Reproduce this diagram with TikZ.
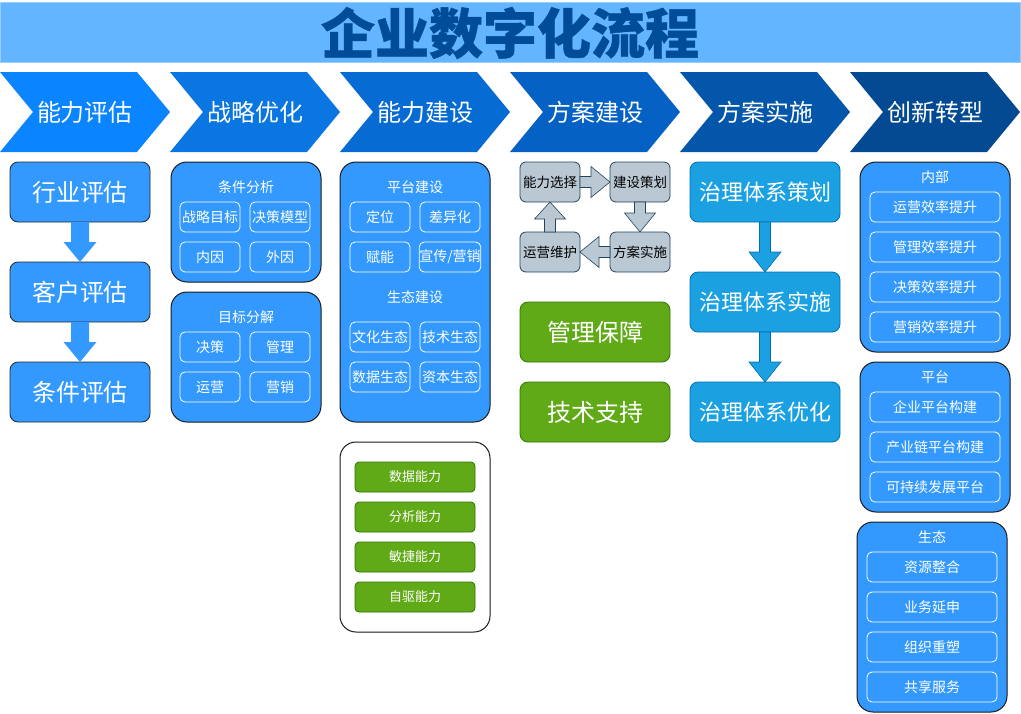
\documentclass[tikz,border=0pt]{standalone}
\usepackage{fontspec}
\setmainfont{Noto Sans CJK SC}
\newfontfamily\titlefont{Noto Sans CJK SC}[BoldFeatures={FakeBold=0.8}]
\usetikzlibrary{calc}
\definecolor{titlebar}{HTML}{63B5FF}
\definecolor{titleedge}{HTML}{9ACDFF}
\definecolor{titletext}{HTML}{004C99}
\definecolor{ch1}{HTML}{0A84FF}
\definecolor{ch2}{HTML}{0A76E2}
\definecolor{ch3}{HTML}{066BD2}
\definecolor{ch4}{HTML}{0562C4}
\definecolor{ch5}{HTML}{0456AA}
\definecolor{ch6}{HTML}{034A92}
\definecolor{mblue}{HTML}{3399FF}
\definecolor{cycfill}{HTML}{BAC8D3}
\definecolor{cycedge}{HTML}{23445D}
\definecolor{gfill}{HTML}{60A917}
\definecolor{gedge}{HTML}{2D7600}
\definecolor{govfill}{HTML}{1BA1E2}
\definecolor{govedge}{HTML}{006EAF}
\newcommand\fs[1]{\fontsize{#1}{#1}\selectfont}
\newcommand\barrow[6]{%
  \coordinate (ba-s) at (#2); \coordinate (ba-e) at (#3);
  \coordinate (ba-h) at ($(ba-e)!#6!(ba-s)$);
  \draw[#1] ($(ba-s)!#4!90:(ba-e)$) -- ($(ba-h)!#4!90:(ba-e)$) -- ($(ba-h)!#5!90:(ba-e)$) -- (ba-e)
    -- ($(ba-h)!#5!-90:(ba-e)$) -- ($(ba-h)!#4!-90:(ba-e)$) -- ($(ba-s)!#4!-90:(ba-e)$) -- cycle;}
\tikzset{
  every node/.style={inner sep=0pt, outer sep=0pt},
  hdr/.style={text=white, font=\fs{24}},
  bigbox/.style={rounded corners=8pt, fill=mblue, draw=black!85, line width=0.8pt, text=white,
    font=\fs{24}, minimum width=140pt, minimum height=60pt},
  container/.style={rounded corners=16pt, fill=mblue, draw=black!90, line width=1pt, minimum width=150pt},
  ttl/.style={text=white, font=\fs{14}},
  inbox/.style={rounded corners=5pt, draw=white, line width=0.8pt, fill=mblue, text=white, font=\fs{14},
    minimum width=60pt, minimum height=30pt},
  widebox/.style={inbox, minimum width=130pt},
  cyc/.style={rounded corners=6pt, fill=cycfill, draw=cycedge, line width=0.8pt, text=black, font=\fs{13.5},
    minimum width=60pt, minimum height=40pt},
  cycarrow/.style={fill=cycfill, draw=cycedge, line width=0.6pt},
  gbig/.style={rounded corners=8pt, fill=gfill, draw=gedge, line width=0.8pt, text=white, font=\fs{24},
    minimum width=150pt, minimum height=60pt},
  gsmall/.style={rounded corners=4pt, fill=gfill, draw=gedge, line width=0.8pt, text=white, font=\fs{13},
    minimum width=120pt, minimum height=30pt},
  gov/.style={rounded corners=8pt, fill=govfill, draw=govedge, line width=0.8pt, text=white, font=\fs{22},
    minimum width=150pt, minimum height=60pt},
  govarrow/.style={fill=govfill, draw=govedge, line width=0.6pt},
  bluearrow/.style={fill=mblue, draw=none},
}
\begin{document}
\begin{tikzpicture}[x=1pt,y=-1pt]
\useasboundingbox (0,0) rectangle (1021,713);
% title
\node[fill=titlebar, draw=titleedge, line width=1pt, minimum width=1020pt, minimum height=60pt] (titlebar) at (510.5,32) {};
\node[text=titletext, font=\fs{54}\titlefont\bfseries] (title) at (510,33) {企业数字化流程};
% chevrons
\foreach \i/\c/\t in {0/ch1/能力评估,1/ch2/战略优化,2/ch3/能力建设,3/ch4/方案建设,4/ch5/方案实施,5/ch6/创新转型}{
  \fill[\c] ({170*\i},72) -- ({170*\i+137},72) -- ({170*\i+170},112) -- ({170*\i+137},152)
     -- ({170*\i},152) -- ({170*\i+33},112) -- cycle;
  \node[hdr] (h\i) at ({170*\i+85},112) {\t};
}
% column 1
\node[bigbox] (r1) at (80,192) {行业评估};
\node[bigbox] (r2) at (80,292) {客户评估};
\node[bigbox] (r3) at (80,392) {条件评估};
\barrow{bluearrow}{r1.south}{r2.north}{9pt}{16.5pt}{20pt}
\barrow{bluearrow}{r2.south}{r3.north}{9pt}{16.5pt}{20pt}
% column 2
\node[container, minimum height=120pt] (c2a) at (246,222) {};
\node[ttl] (c2at) at (246,187) {条件分析};
\node[inbox] (c2a1) at (210,217) {战略目标};
\node[inbox] (c2a2) at (280,217) {决策模型};
\node[inbox] (c2a3) at (210,257) {内因};
\node[inbox] (c2a4) at (280,257) {外因};
\node[container, minimum height=130pt] (c2b) at (246,357) {};
\node[ttl] (c2bt) at (246,317) {目标分解};
\node[inbox] (c2b1) at (210,347) {决策};
\node[inbox] (c2b2) at (280,347) {管理};
\node[inbox] (c2b3) at (210,387) {运营};
\node[inbox] (c2b4) at (280,387) {营销};
% column 3
\node[container, minimum height=260pt] (c3a) at (415,292) {};
\node[ttl] (c3at) at (415,187) {平台建设};
\node[inbox] (c3a1) at (380,217) {定位};
\node[inbox] (c3a2) at (450,217) {差异化};
\node[inbox] (c3a3) at (380,257) {赋能};
\node[inbox] (c3a4) at (450,257) {宣传/营销};
\node[ttl] (c3bt) at (415,297) {生态建设};
\node[inbox] (c3b1) at (380,337) {文化生态};
\node[inbox] (c3b2) at (450,337) {技术生态};
\node[inbox] (c3b3) at (380,377) {数据生态};
\node[inbox] (c3b4) at (450,377) {资本生态};
\node[container, fill=white, minimum height=190pt] (c3g) at (415,537) {};
\node[gsmall] (g1) at (415,477) {数据能力};
\node[gsmall] (g2) at (415,517) {分析能力};
\node[gsmall] (g3) at (415,557) {敏捷能力};
\node[gsmall] (g4) at (415,597) {自驱能力};
% column 4
\node[cyc] (k1) at (550,182) {能力选择};
\node[cyc] (k2) at (640,182) {建设策划};
\node[cyc] (k3) at (640,252) {方案实施};
\node[cyc] (k4) at (550,252) {运营维护};
\barrow{cycarrow}{k1.east}{k2.west}{5.5pt}{15.5pt}{19pt}
\barrow{cycarrow}{k2.south}{k3.north}{5.5pt}{15.5pt}{19pt}
\barrow{cycarrow}{k3.west}{k4.east}{5.5pt}{15.5pt}{19pt}
\barrow{cycarrow}{k4.north}{k1.south}{5.5pt}{15.5pt}{17pt}
\node[gbig] (m1) at (595,332) {管理保障};
\node[gbig] (m2) at (595,412) {技术支持};
% column 5
\node[gov] (v1) at (765,192) {治理体系策划};
\node[gov] (v2) at (765,302) {治理体系实施};
\node[gov] (v3) at (765,412) {治理体系优化};
\barrow{govarrow}{v1.south}{v2.north}{5.5pt}{16pt}{20pt}
\barrow{govarrow}{v2.south}{v3.north}{5.5pt}{16pt}{20pt}
% column 6
\node[container, minimum height=190pt] (c6a) at (935,257) {};
\node[ttl] (c6at) at (935,177) {内部};
\node[widebox] (c6a1) at (935,207) {运营效率提升};
\node[widebox] (c6a2) at (935,247) {管理效率提升};
\node[widebox] (c6a3) at (935,287) {决策效率提升};
\node[widebox] (c6a4) at (935,327) {营销效率提升};
\node[container, minimum height=150pt] (c6b) at (935,437) {};
\node[ttl] (c6bt) at (935,377) {平台};
\node[widebox] (c6b1) at (935,407) {企业平台构建};
\node[widebox] (c6b2) at (935,447) {产业链平台构建};
\node[widebox] (c6b3) at (935,487) {可持续发展平台};
\node[container, minimum height=190pt] (c6c) at (932,617) {};
\node[ttl] (c6ct) at (932,537) {生态};
\node[widebox] (c6c1) at (932,567) {资源整合};
\node[widebox] (c6c2) at (932,607) {业务延申};
\node[widebox] (c6c3) at (932,647) {组织重塑};
\node[widebox] (c6c4) at (932,687) {共享服务};
\end{tikzpicture}
\end{document}
